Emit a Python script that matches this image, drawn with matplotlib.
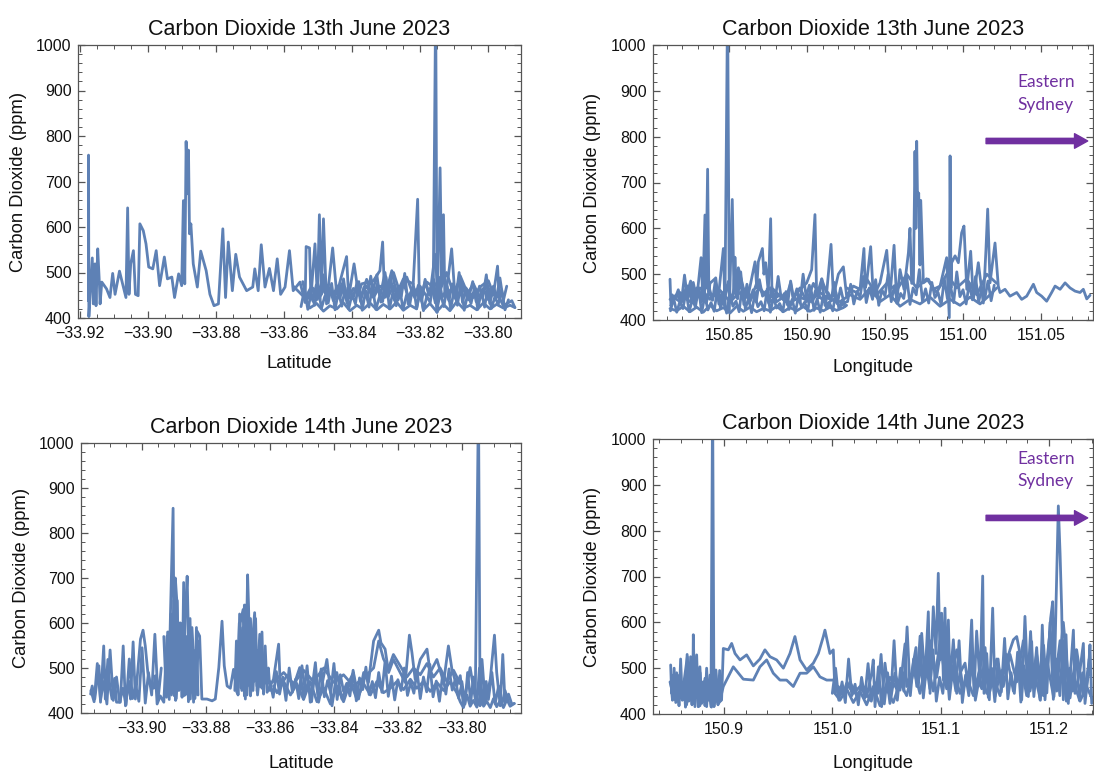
import matplotlib
matplotlib.use('Agg')
import matplotlib.pyplot as plt
from matplotlib.ticker import MultipleLocator, FuncFormatter

plt.rcParams['font.family'] = ['Liberation Sans', 'DejaVu Sans']

LINE_COLOR = '#5E81B5'
FRAME_COLOR = '#555555'
PURPLE = '#7030A0'

# ---------------- Panel 1: 13th June, latitude ----------------
p1a_lat = [-33.9175, -33.9175, -33.9174, -33.9171, -33.9164, -33.9161, -33.9156, -33.9153, -33.9148, -33.9143,
           -33.9141, -33.9136, -33.9122, -33.9112, -33.9104, -33.9097, -33.9084, -33.9065, -33.9060, -33.9056,
           -33.9051, -33.9043, -33.9037, -33.9029, -33.9024, -33.9014, -33.9006, -33.8998, -33.8986, -33.8976,
           -33.8966, -33.8952, -33.8943, -33.8930, -33.8922, -33.8910, -33.8901, -33.8896, -33.8892, -33.8888,
           -33.8884, -33.8881, -33.8878, -33.8874, -33.8867, -33.8855, -33.8845, -33.8829, -33.8818, -33.8806,
           -33.8793, -33.8780, -33.8772, -33.8764, -33.8752, -33.8742, -33.8731, -33.8710, -33.8692, -33.8686,
           -33.8676, -33.8667, -33.8656, -33.8643, -33.8631, -33.8620, -33.8610, -33.8597, -33.8584, -33.8573,
           -33.8553, -33.8538, -33.8535, -33.8525, -33.8521, -33.8509, -33.8502, -33.8496, -33.8490, -33.8484,
           -33.8475, -33.8457, -33.8445, -33.8416, -33.8410, -33.8394, -33.8381, -33.8372, -33.8337, -33.8318,
           -33.8310, -33.8304, -33.8283, -33.8269, -33.8249, -33.8220, -33.8207, -33.8202, -33.8180, -33.8161,
           -33.8154, -33.8150, -33.8146, -33.8141, -33.8136, -33.8131, -33.8127, -33.8117, -33.8107, -33.8097,
           -33.8082, -33.8068, -33.8043, -33.8024, -33.7999, -33.7984, -33.7972, -33.7967, -33.7955, -33.7930,
           -33.7921]
p1a_co2 = [438, 758, 403, 445, 532, 431, 519, 427, 552, 475,
           431, 479, 464, 445, 498, 452, 503, 445, 642, 452,
           519, 548, 452, 449, 607, 592, 563, 512, 508, 548,
           471, 534, 486, 490, 445, 497, 471, 658, 475, 788,
           673, 769, 585, 607, 519, 468, 547, 504, 452, 427,
           431, 596, 445, 567, 460, 540, 490, 460, 468, 508,
           460, 561, 468, 509, 460, 530, 452, 468, 548, 460,
           479, 434, 557, 554, 445, 563, 445, 627, 452, 618,
           431, 554, 452, 535, 445, 519, 452, 475, 482, 504,
           567, 445, 504, 452, 486, 475, 661, 445, 479, 468,
           1100, 412, 534, 730, 475, 627, 445, 490, 552, 445,
           493, 468, 445, 468, 482, 452, 514, 445, 427, 438,
           423]

p1b_lat = [-33.7921, -33.7935, -33.7955, -33.7975, -33.7994, -33.8014, -33.8033, -33.8053, -33.8073, -33.8092,
           -33.8112, -33.8131, -33.8151, -33.8171, -33.8190, -33.8200, -33.8210, -33.8229, -33.8249, -33.8269,
           -33.8288, -33.8308, -33.8327, -33.8347, -33.8367, -33.8386, -33.8406, -33.8426, -33.8445, -33.8465,
           -33.8484, -33.8504, -33.8524, -33.8533]
p1b_co2 = [423, 428, 422, 430, 420, 433, 418, 428, 421, 436,
           416, 430, 414, 432, 418, 460, 420, 428, 417, 435,
           420, 430, 418, 433, 419, 428, 416, 434, 420, 427,
           415, 432, 422, 436]

p1c_lat = [-33.8533, -33.8519, -33.8504, -33.8489, -33.8475, -33.8460, -33.8445, -33.8430, -33.8416, -33.8401,
           -33.8386, -33.8372, -33.8357, -33.8342, -33.8327, -33.8318, -33.8303, -33.8293, -33.8278, -33.8264,
           -33.8249, -33.8234, -33.8220, -33.8200, -33.8185, -33.8171, -33.8156, -33.8146, -33.8131, -33.8117,
           -33.8102, -33.8087, -33.8073, -33.8058, -33.8043, -33.8028, -33.8014, -33.7999, -33.7984, -33.7975]
p1c_co2 = [450, 470, 440, 480, 445, 460, 440, 475, 450, 442,
           470, 448, 485, 450, 495, 445, 500, 448, 470, 440,
           478, 445, 468, 442, 480, 450, 540, 445, 500, 455,
           470, 445, 465, 440, 455, 438, 465, 440, 470, 445]

p1d_lat = [-33.7984, -33.8004, -33.8024, -33.8043, -33.8063, -33.8082, -33.8102, -33.8122, -33.8141, -33.8161,
           -33.8180, -33.8200, -33.8220, -33.8239, -33.8259, -33.8278, -33.8298, -33.8318, -33.8337, -33.8357,
           -33.8376, -33.8396, -33.8416, -33.8435, -33.8455, -33.8475, -33.8494, -33.8514, -33.8533, -33.8553,
           -33.8573]
p1d_co2 = [450, 470, 445, 475, 450, 485, 455, 500, 460, 480,
           447, 470, 450, 490, 455, 500, 460, 470, 445, 470,
           448, 465, 440, 470, 455, 472, 448, 465, 440, 455,
           470]

p1e_lat = [-33.855, -33.854, -33.853, -33.852, -33.851, -33.850, -33.849, -33.848, -33.847, -33.846,
           -33.845, -33.844, -33.843, -33.842, -33.841, -33.840, -33.839, -33.838, -33.837, -33.836,
           -33.835, -33.834, -33.833, -33.832, -33.831, -33.830, -33.829, -33.828, -33.827, -33.826,
           -33.825, -33.824, -33.823, -33.822, -33.821, -33.820, -33.819, -33.818, -33.817, -33.816,
           -33.815, -33.814, -33.813, -33.812, -33.811, -33.810, -33.809, -33.808, -33.807, -33.806,
           -33.805, -33.804, -33.803, -33.802, -33.801, -33.800, -33.799, -33.798, -33.797, -33.796,
           -33.795, -33.794]
p1e_co2 = [425, 462, 419, 455, 428, 470, 421, 448, 433, 476,
           418, 458, 426, 466, 420, 452, 431, 480, 417, 460,
           424, 470, 419, 445, 436, 490, 420, 456, 427, 468,
           418, 450, 430, 475, 421, 462, 416, 448, 434, 485,
           419, 455, 425, 470, 420, 460, 428, 478, 417, 452,
           432, 465, 419, 458, 424, 470, 421, 446, 430, 462,
           418, 440]

p1f_lat = [-33.7945, -33.7955, -33.7965, -33.7975, -33.7985, -33.7995, -33.8005, -33.8015, -33.8025, -33.8035,
           -33.8045, -33.8055, -33.8065, -33.8075, -33.8085, -33.8095, -33.8105, -33.8115, -33.8125, -33.8135,
           -33.8145, -33.8155, -33.8165, -33.8175, -33.8185, -33.8195, -33.8205, -33.8215, -33.8225, -33.8235,
           -33.8245, -33.8255, -33.8265, -33.8275, -33.8285, -33.8295, -33.8305, -33.8315, -33.8325, -33.8335,
           -33.8345, -33.8355, -33.8365, -33.8375, -33.8385, -33.8395, -33.8405, -33.8415, -33.8425, -33.8435,
           -33.8445, -33.8455, -33.8465, -33.8475, -33.8485, -33.8495, -33.8505, -33.8515, -33.8525, -33.8535,
           -33.8545]
p1f_co2 = [470, 438, 488, 445, 462, 432, 495, 447, 470, 436,
           480, 450, 466, 434, 500, 442, 475, 438, 458, 446,
           490, 433, 468, 452, 485, 437, 472, 444, 460, 431,
           498, 448, 470, 439, 482, 445, 463, 435, 476, 450,
           492, 441, 467, 436, 479, 447, 460, 433, 486, 444,
           471, 438, 464, 449, 495, 440, 473, 437, 458, 446,
           480]

# ---------------- Panel 2: 13th June, longitude ----------------
p2a_lon = [150.8122, 150.8128, 150.8143, 150.8186, 150.8229, 150.8254, 150.8262, 150.8271, 150.8293, 150.8321,
           150.8332, 150.8346, 150.8352, 150.8363, 150.8371, 150.8378, 150.8410, 150.8432, 150.8464, 150.8474,
           150.8491, 150.8502, 150.8521, 150.8532, 150.8538, 150.8549, 150.8560, 150.8592, 150.8624, 150.8667,
           150.8678, 150.8688, 150.8714, 150.8724, 150.8735, 150.8752, 150.8767, 150.8776, 150.8784, 150.8827,
           150.8859, 150.8895, 150.8912, 150.8934, 150.8966, 150.8998, 150.9030, 150.9051, 150.9062, 150.9094,
           150.9126, 150.9154, 150.9169, 150.9201, 150.9233, 150.9254, 150.9297, 150.9340, 150.9365, 150.9373,
           150.9382, 150.9408, 150.9425, 150.9468, 150.9511, 150.9532, 150.9558, 150.9575, 150.9596, 150.9622,
           150.9650, 150.9660, 150.9671, 150.9682, 150.9692, 150.9698, 150.9703, 150.9709, 150.9716, 150.9724,
           150.9729, 150.9746, 150.9778, 150.9810, 150.9853, 150.9895, 150.9912, 150.9917, 150.9923, 150.9927,
           150.9949, 150.9970, 150.9991, 151.0006, 151.0024, 151.0049, 151.0066, 151.0098, 151.0130, 151.0147,
           151.0158, 151.0173, 151.0205, 151.0226, 151.0237, 151.0269, 151.0301, 151.0344, 151.0376, 151.0408,
           151.0451, 151.0472, 151.0504, 151.0536, 151.0568, 151.0590, 151.0622, 151.0654, 151.0686, 151.0718,
           151.0750, 151.0771, 151.0793, 151.0814]
p2a_co2 = [489, 430, 450, 440, 455, 485, 440, 482, 445, 536,
           450, 629, 470, 729, 460, 480, 490, 450, 556, 430,
           1100, 420, 663, 460, 537, 450, 514, 470, 455, 527,
           470, 527, 556, 500, 525, 460, 621, 450, 467, 452,
           440, 481, 445, 459, 470, 481, 510, 630, 452, 489,
           459, 565, 452, 500, 516, 452, 474, 467, 556, 470,
           481, 560, 452, 481, 552, 452, 563, 437, 510, 467,
           547, 600, 480, 481, 768, 600, 790, 650, 677, 520,
           661, 481, 489, 467, 474, 536, 405, 758, 470, 525,
           540, 525, 590, 605, 467, 550, 445, 525, 437, 554,
           642, 481, 568, 474, 460, 467, 452, 460, 445, 452,
           478, 460, 452, 441, 460, 474, 467, 481, 470, 463,
           460, 467, 446, 454]

p2b_lon = [150.8122, 150.8165, 150.8207, 150.8250, 150.8293, 150.8335, 150.8378, 150.8421, 150.8464, 150.8506,
           150.8549, 150.8592, 150.8635, 150.8677, 150.8720, 150.8763, 150.8806, 150.8848, 150.8891, 150.8934,
           150.8976, 150.9019, 150.9062, 150.9105, 150.9147, 150.9190, 150.9233, 150.9254]
p2b_co2 = [425, 420, 430, 418, 428, 417, 432, 420, 427, 415,
           430, 419, 428, 418, 425, 420, 430, 418, 427, 420,
           429, 419, 426, 420, 428, 421, 427, 432]

p2c_lon = [150.9254, 150.9212, 150.9169, 150.9126, 150.9083, 150.9041, 150.8998, 150.8955, 150.8923, 150.8891,
           150.8848, 150.8806, 150.8763, 150.8720, 150.8677, 150.8635, 150.8592, 150.8549, 150.8517, 150.8485,
           150.8453, 150.8421, 150.8389, 150.8357, 150.8325, 150.8293, 150.8261, 150.8229, 150.8197, 150.8165,
           150.8132]
p2c_co2 = [440, 430, 445, 435, 450, 480, 440, 470, 455, 430,
           450, 440, 470, 455, 480, 440, 465, 480, 445, 475,
           440, 470, 445, 480, 440, 470, 445, 475, 440, 455,
           440]

p2d_lon = [150.8122, 150.8186, 150.8250, 150.8314, 150.8378, 150.8442, 150.8506, 150.8571, 150.8635, 150.8699,
           150.8763, 150.8827, 150.8891, 150.8955, 150.9019, 150.9083, 150.9147, 150.9212, 150.9276, 150.9340,
           150.9404, 150.9468, 150.9532, 150.9596, 150.9660, 150.9724, 150.9788, 150.9853, 150.9917, 150.9981,
           151.0045, 151.0109, 151.0173, 151.0216]
p2d_co2 = [445, 460, 440, 470, 445, 465, 440, 460, 445, 470,
           440, 455, 438, 450, 440, 460, 445, 440, 455, 445,
           470, 440, 455, 430, 445, 435, 450, 430, 445, 432,
           450, 435, 455, 470]

p2e_lon = [151.0216, 151.0152, 151.0088, 151.0024, 150.9959, 150.9895, 150.9831, 150.9767, 150.9703, 150.9639,
           150.9575, 150.9511, 150.9447, 150.9382, 150.9318, 150.9254]
p2e_co2 = [480, 500, 455, 490, 470, 500, 460, 490, 470, 500,
           465, 480, 455, 490, 460, 470]

p2f_lon = [150.8125, 150.8145, 150.8165, 150.8185, 150.8205, 150.8225, 150.8245, 150.8265, 150.8285, 150.8305,
           150.8325, 150.8345, 150.8365, 150.8385, 150.8405, 150.8425, 150.8445, 150.8465, 150.8485, 150.8505,
           150.8525, 150.8545, 150.8565, 150.8585, 150.8605, 150.8625, 150.8645, 150.8665, 150.8685, 150.8705,
           150.8725, 150.8745, 150.8765, 150.8785, 150.8805, 150.8825, 150.8845, 150.8865, 150.8885, 150.8905,
           150.8925, 150.8945, 150.8965, 150.8985, 150.9005, 150.9025, 150.9045, 150.9065, 150.9085, 150.9105,
           150.9125, 150.9145, 150.9165, 150.9185, 150.9205, 150.9225, 150.9245]
p2f_co2 = [420, 448, 417, 440, 425, 462, 418, 445, 428, 470,
           416, 452, 422, 438, 419, 466, 427, 444, 415, 458,
           430, 441, 418, 475, 424, 447, 416, 455, 429, 440,
           420, 468, 417, 450, 426, 436, 418, 462, 423, 445,
           415, 452, 428, 439, 419, 470, 421, 446, 417, 455,
           426, 437, 420, 460, 424, 442, 430]

p2g_lon = [150.9235, 150.9215, 150.9195, 150.9175, 150.9155, 150.9135, 150.9115, 150.9095, 150.9075, 150.9055,
           150.9035, 150.9015, 150.8995, 150.8975, 150.8955, 150.8935, 150.8915, 150.8895, 150.8875, 150.8855,
           150.8835, 150.8815, 150.8795, 150.8775, 150.8755, 150.8735, 150.8715, 150.8695, 150.8675, 150.8655,
           150.8635, 150.8615, 150.8595, 150.8575, 150.8555, 150.8535, 150.8515, 150.8495, 150.8475, 150.8455,
           150.8435, 150.8415, 150.8395, 150.8375, 150.8355, 150.8335, 150.8315, 150.8295, 150.8275, 150.8255,
           150.8235, 150.8215, 150.8195, 150.8175, 150.8155, 150.8135]
p2g_co2 = [440, 470, 436, 482, 445, 460, 432, 490, 448, 465,
           438, 476, 450, 500, 437, 468, 444, 485, 433, 458,
           447, 495, 440, 472, 436, 462, 452, 488, 439, 466,
           445, 478, 434, 505, 446, 470, 438, 484, 450, 460,
           435, 492, 443, 468, 437, 480, 449, 462, 436, 474,
           444, 498, 439, 466, 447, 455]

p2h_lon = [150.926, 150.928, 150.930, 150.932, 150.934, 150.936, 150.938, 150.940, 150.942, 150.944,
           150.946, 150.948, 150.950, 150.952, 150.954, 150.956, 150.958, 150.960, 150.962, 150.964,
           150.966, 150.968, 150.970, 150.972, 150.974, 150.976, 150.978, 150.980, 150.982, 150.984,
           150.986, 150.988, 150.990, 150.992, 150.994, 150.996, 150.998, 151.000, 151.002, 151.004,
           151.006, 151.008, 151.010, 151.012, 151.014, 151.016, 151.018, 151.020]
p2h_co2 = [440, 478, 435, 462, 450, 495, 438, 470, 445, 488,
           432, 466, 452, 500, 440, 475, 436, 458, 447, 492,
           434, 470, 455, 510, 441, 468, 437, 482, 449, 460,
           433, 490, 446, 474, 438, 505, 451, 466, 435, 480,
           444, 495, 439, 470, 448, 485, 442, 476]

# ---------------- Panel 3: 14th June, latitude ----------------
p3a_lat = [-33.9161, -33.9156, -33.9148, -33.9135, -33.9130, -33.9120, -33.9115, -33.9107, -33.9101, -33.9094,
           -33.9086, -33.9080, -33.9068, -33.9059, -33.9052, -33.9042, -33.9036, -33.9028, -33.9021, -33.9005,
           -33.8997, -33.8990, -33.8982, -33.8974, -33.8964, -33.8958, -33.8953, -33.8943, -33.8932, -33.8922,
           -33.8917, -33.8911, -33.8903, -33.8899, -33.8896, -33.8891, -33.8885, -33.8880, -33.8875, -33.8870,
           -33.8865, -33.8859, -33.8854, -33.8849, -33.8844, -33.8839, -33.8828, -33.8820, -33.8813, -33.8797,
           -33.8781, -33.8771, -33.8760, -33.8750, -33.8743, -33.8734, -33.8724, -33.8714, -33.8703, -33.8693,
           -33.8684, -33.8677, -33.8670, -33.8667, -33.8661, -33.8656, -33.8648, -33.8641, -33.8632, -33.8625,
           -33.8615, -33.8609, -33.8589, -33.8573, -33.8568, -33.8547, -33.8526, -33.8507, -33.8495, -33.8484,
           -33.8474, -33.8458, -33.8448, -33.8438, -33.8422, -33.8406, -33.8391, -33.8375, -33.8359, -33.8339,
           -33.8323, -33.8307, -33.8292, -33.8276, -33.8260, -33.8253, -33.8240, -33.8229, -33.8214, -33.8193,
           -33.8177, -33.8164, -33.8156, -33.8146, -33.8130, -33.8109, -33.8099, -33.8078, -33.8057, -33.8042,
           -33.8031, -33.8016, -33.8005, -33.7995, -33.7974, -33.7958, -33.7948, -33.7943, -33.7937, -33.7927,
           -33.7911, -33.7898, -33.7891, -33.7880, -33.7872, -33.7865, -33.7854, -33.7844, -33.7836]
p3a_co2 = [442, 460, 431, 505, 424, 549, 431, 519, 460, 431,
           477, 424, 424, 549, 416, 471, 431, 558, 431, 564,
           584, 549, 490, 460, 455, 483, 420, 438, 424, 571,
           435, 626, 855, 438, 700, 645, 460, 578, 593, 438,
           615, 704, 534, 431, 556, 424, 582, 571, 431, 431,
           427, 431, 501, 604, 505, 460, 455, 497, 446, 600,
           630, 431, 707, 637, 438, 549, 623, 460, 575, 455,
           549, 446, 475, 553, 460, 483, 460, 501, 431, 505,
           424, 512, 424, 460, 519, 416, 490, 431, 460, 490,
           431, 490, 468, 560, 584, 556, 542, 490, 519, 490,
           468, 573, 534, 475, 519, 542, 490, 519, 468, 549,
           497, 460, 483, 416, 501, 431, 1100, 416, 519, 424,
           475, 573, 490, 416, 530, 424, 442, 420, 421]

p3b_lat = [-33.7836, -33.7849, -33.7859, -33.7870, -33.7880, -33.7891, -33.7901, -33.7911, -33.7922, -33.7932,
           -33.7943, -33.7953, -33.7964, -33.7974, -33.7984, -33.7995, -33.8005, -33.8016, -33.8036, -33.8057,
           -33.8078, -33.8099, -33.8120, -33.8141, -33.8161, -33.8182, -33.8203, -33.8224, -33.8245, -33.8266,
           -33.8286, -33.8307, -33.8328, -33.8349, -33.8370, -33.8391, -33.8411, -33.8432, -33.8453, -33.8474,
           -33.8495, -33.8516, -33.8536, -33.8557, -33.8578, -33.8589]
p3b_co2 = [421, 415, 430, 412, 428, 414, 432, 412, 426, 415,
           435, 413, 428, 415, 440, 412, 425, 445, 470, 450,
           468, 448, 470, 455, 475, 452, 470, 455, 445, 470,
           440, 465, 430, 470, 425, 460, 420, 455, 425, 470,
           430, 465, 440, 470, 445, 460]

p3c_lat = [-33.8589, -33.8557, -33.8526, -33.8495, -33.8464, -33.8432, -33.8401, -33.8370, -33.8339, -33.8307,
           -33.8276, -33.8260, -33.8245, -33.8229, -33.8214, -33.8193, -33.8172, -33.8151, -33.8130, -33.8109,
           -33.8089, -33.8068, -33.8047, -33.8026, -33.8005]
p3c_co2 = [470, 490, 465, 495, 470, 500, 468, 485, 460, 478,
           500, 560, 520, 500, 530, 505, 480, 500, 485, 510,
           480, 500, 470, 495, 465]

p3d_lat = [-33.8823, -33.8833, -33.8844, -33.8854, -33.8861, -33.8872, -33.8882, -33.8893, -33.8901, -33.8908,
           -33.8917, -33.8924, -33.8932]
p3d_co2 = [560, 440, 590, 430, 560, 445, 600, 432, 650, 440,
           580, 435, 570]

p3e_lat = [-33.8630, -33.8639, -33.8646, -33.8653, -33.8661, -33.8672, -33.8680, -33.8688, -33.8696, -33.8703]
p3e_co2 = [500, 440, 580, 450, 610, 440, 640, 450, 600, 445]

p3f_lat = [-33.8000, -33.7990, -33.7982, -33.7972, -33.7964, -33.7953, -33.7945, -33.7934, -33.7924, -33.7917,
           -33.7906, -33.7896, -33.7885, -33.7875, -33.7865, -33.7854]
p3f_co2 = [470, 420, 490, 425, 480, 418, 500, 422, 470, 430,
           490, 420, 460, 418, 450, 425]

p3g_lat = [-33.860, -33.859, -33.858, -33.857, -33.856, -33.855, -33.854, -33.853, -33.852, -33.851,
           -33.850, -33.849, -33.848, -33.847, -33.846, -33.845, -33.844, -33.843, -33.842, -33.841,
           -33.840, -33.839, -33.838, -33.837, -33.836, -33.835, -33.834, -33.833, -33.832, -33.831,
           -33.830, -33.829, -33.828, -33.827, -33.826, -33.825, -33.824, -33.823, -33.822, -33.821,
           -33.820, -33.819, -33.818, -33.817, -33.816, -33.815, -33.814, -33.813, -33.812, -33.811,
           -33.810, -33.809, -33.808, -33.807, -33.806, -33.805, -33.804, -33.803, -33.802, -33.801,
           -33.800]
p3g_co2 = [470, 435, 492, 442, 480, 428, 500, 446, 475, 432,
           505, 450, 468, 425, 488, 440, 498, 436, 472, 445,
           510, 430, 485, 448, 466, 438, 495, 427, 478, 452,
           502, 441, 470, 434, 490, 446, 515, 437, 482, 429,
           474, 450, 500, 439, 468, 444, 493, 432, 480, 447,
           508, 436, 471, 426, 486, 442, 498, 451, 476, 433,
           465]

p3h_lat = [-33.916, -33.915, -33.914, -33.913, -33.912, -33.911, -33.910, -33.909, -33.908, -33.907,
           -33.906, -33.905, -33.904, -33.903, -33.902, -33.901, -33.900, -33.899, -33.898, -33.897,
           -33.896, -33.895, -33.894]
p3h_co2 = [450, 425, 510, 430, 470, 420, 540, 428, 480, 424,
           455, 418, 520, 432, 462, 426, 545, 422, 490, 440,
           575, 430, 500]

p3i_lat = [-33.8925, -33.8920, -33.8915, -33.8910, -33.8905, -33.8900, -33.8895, -33.8890, -33.8885, -33.8880,
           -33.8875, -33.8870, -33.8865, -33.8860, -33.8855, -33.8850, -33.8845, -33.8840, -33.8835, -33.8830,
           -33.8825]
p3i_co2 = [440, 580, 430, 620, 445, 560, 428, 650, 450, 600,
           435, 690, 440, 570, 425, 610, 450, 540, 432, 590,
           440]

p3j_lat = [-33.8710, -33.8705, -33.8700, -33.8695, -33.8690, -33.8685, -33.8680, -33.8675, -33.8670, -33.8665,
           -33.8660, -33.8655, -33.8650, -33.8645, -33.8640, -33.8635, -33.8630, -33.8625, -33.8620, -33.8615,
           -33.8610, -33.8605, -33.8600]
p3j_co2 = [450, 560, 440, 620, 455, 590, 438, 640, 460, 600,
           445, 560, 470, 610, 448, 540, 458, 580, 442, 520,
           465, 500, 450]

# ---------------- Panel 4: 14th June, longitude ----------------
p4a_lon = [150.8508, 150.8517, 150.8532, 150.8548, 150.8569, 150.8594, 150.8625, 150.8649, 150.8662, 150.8680,
           150.8692, 150.8711, 150.8717, 150.8732, 150.8748, 150.8763, 150.8778, 150.8794, 150.8825, 150.8840,
           150.8855, 150.8880, 150.8895, 150.8908, 150.8926, 150.8948, 150.8978, 150.8994, 150.9040, 150.9071,
           150.9102, 150.9148, 150.9209, 150.9271, 150.9332, 150.9378, 150.9425, 150.9486, 150.9548, 150.9609,
           150.9655, 150.9702, 150.9763, 150.9825, 150.9871, 150.9917, 150.9932, 150.9978, 151.0009, 151.0025,
           151.0055, 151.0102, 151.0132, 151.0194, 151.0255, 151.0317, 151.0363, 151.0378, 151.0394, 151.0425,
           151.0455, 151.0486, 151.0532, 151.0578, 151.0625, 151.0671, 151.0686, 151.0732, 151.0772, 151.0794,
           151.0825, 151.0855, 151.0886, 151.0902, 151.0932, 151.0957, 151.0978, 151.0994, 151.1009, 151.1025,
           151.1040, 151.1055, 151.1071, 151.1086, 151.1117, 151.1148, 151.1178, 151.1225, 151.1255, 151.1286,
           151.1308, 151.1332, 151.1363, 151.1388, 151.1400, 151.1425, 151.1449, 151.1480, 151.1502, 151.1548,
           151.1594, 151.1640, 151.1671, 151.1702, 151.1732, 151.1748, 151.1778, 151.1809, 151.1840, 151.1855,
           151.1886, 151.1917, 151.1938, 151.1963, 151.1994, 151.2015, 151.2034, 151.2046, 151.2065, 151.2086,
           151.2102, 151.2117, 151.2132, 151.2157, 151.2178, 151.2225, 151.2240, 151.2286, 151.2317, 151.2332,
           151.2363, 151.2378, 151.2394]
p4a_co2 = [507, 445, 485, 431, 481, 438, 460, 503, 525, 438,
           525, 423, 573, 416, 529, 416, 503, 423, 478, 416,
           474, 416, 1100, 416, 496, 423, 431, 543, 540, 554,
           532, 518, 529, 505, 520, 540, 525, 518, 500, 532,
           569, 518, 496, 511, 532, 569, 583, 532, 540, 445,
           460, 445, 467, 445, 460, 438, 489, 518, 416, 503,
           416, 511, 423, 489, 452, 553, 460, 489, 545, 460,
           576, 474, 623, 445, 634, 532, 707, 518, 620, 474,
           631, 460, 605, 467, 562, 445, 489, 511, 460, 605,
           445, 581, 467, 701, 445, 532, 431, 631, 438, 489,
           503, 540, 562, 569, 532, 431, 613, 438, 558, 460,
           545, 431, 594, 431, 532, 609, 645, 438, 642, 854,
           751, 627, 431, 573, 423, 583, 445, 496, 554, 423,
           489, 551, 423]

p4b_lon = [151.0009, 150.9948, 150.9886, 150.9825, 150.9763, 150.9702, 150.9640, 150.9578, 150.9517, 150.9455,
           150.9394, 150.9332, 150.9271, 150.9178, 150.9086, 150.8994, 150.8963, 150.8932, 150.8902, 150.8871,
           150.8840, 150.8809, 150.8778, 150.8748, 150.8717, 150.8686, 150.8655, 150.8625, 150.8594, 150.8563,
           150.8532, 150.8502]
p4b_co2 = [474, 474, 481, 503, 489, 489, 460, 474, 474, 489,
           518, 503, 474, 476, 503, 460, 430, 470, 420, 485,
           425, 470, 418, 490, 430, 480, 420, 470, 435, 490,
           440, 470]

p4c_lon = [151.0009, 151.0071, 151.0132, 151.0194, 151.0255, 151.0317, 151.0378, 151.0440, 151.0502, 151.0563,
           151.0625, 151.0686, 151.0748, 151.0809, 151.0871, 151.0932, 151.0994, 151.1055, 151.1117, 151.1178,
           151.1240, 151.1302, 151.1363, 151.1425, 151.1486, 151.1548, 151.1609, 151.1671, 151.1732, 151.1794,
           151.1855, 151.1917, 151.1978, 151.2040, 151.2102, 151.2163, 151.2225, 151.2286, 151.2348, 151.2403]
p4c_co2 = [450, 430, 455, 425, 450, 420, 460, 418, 455, 425,
           470, 440, 500, 445, 520, 450, 560, 455, 500, 445,
           480, 440, 500, 445, 480, 440, 530, 450, 520, 440,
           500, 435, 520, 440, 560, 430, 470, 428, 460, 430]

p4d_lon = [151.2378, 151.2317, 151.2255, 151.2194, 151.2132, 151.2071, 151.2009, 151.1948, 151.1886, 151.1825,
           151.1763, 151.1702, 151.1640, 151.1578, 151.1517, 151.1455, 151.1394, 151.1332, 151.1271, 151.1209,
           151.1148, 151.1086, 151.1025, 151.0963, 151.0902, 151.0840, 151.0778, 151.0717, 151.0655, 151.0594,
           151.0532, 151.0471, 151.0409, 151.0348, 151.0286, 151.0225, 151.0163, 151.0102, 151.0040]
p4d_co2 = [520, 440, 540, 435, 600, 450, 580, 440, 530, 450,
           560, 470, 530, 460, 520, 450, 540, 460, 500, 455,
           540, 470, 580, 480, 560, 470, 520, 460, 490, 455,
           480, 440, 470, 430, 460, 440, 470, 440, 460]

p4e_lon = [151.000, 151.003, 151.006, 151.009, 151.012, 151.015, 151.018, 151.021, 151.024, 151.027,
           151.030, 151.033, 151.036, 151.039, 151.042, 151.045, 151.048, 151.051, 151.054, 151.057,
           151.060, 151.063, 151.066, 151.069, 151.072, 151.075, 151.078, 151.081, 151.084, 151.087,
           151.090, 151.093, 151.096, 151.099, 151.102, 151.105, 151.108, 151.111, 151.114, 151.117,
           151.120, 151.123, 151.126, 151.129, 151.132, 151.135, 151.138, 151.141, 151.144, 151.147,
           151.150, 151.153, 151.156, 151.159, 151.162, 151.165, 151.168, 151.171, 151.174, 151.177,
           151.180, 151.183, 151.186, 151.189, 151.192, 151.195, 151.198, 151.201, 151.204, 151.207,
           151.210, 151.213, 151.216, 151.219, 151.222, 151.225, 151.228, 151.231, 151.234, 151.237]
p4e_co2 = [445, 500, 430, 470, 425, 520, 440, 465, 420, 480,
           435, 510, 428, 460, 445, 530, 422, 490, 438, 560,
           430, 500, 450, 590, 440, 520, 460, 570, 435, 505,
           455, 540, 428, 480, 445, 520, 432, 495, 450, 560,
           425, 485, 440, 530, 430, 470, 455, 545, 436, 500,
           427, 520, 448, 565, 433, 490, 445, 535, 426, 505,
           452, 580, 438, 510, 430, 550, 446, 600, 432, 520,
           440, 560, 428, 500, 450, 540, 430, 490, 445, 520]

p4f_lon = [150.8510, 150.8525, 150.8540, 150.8555, 150.8570, 150.8585, 150.8600, 150.8615, 150.8630, 150.8645,
           150.8660, 150.8675, 150.8690, 150.8705, 150.8720, 150.8735, 150.8750, 150.8765, 150.8780, 150.8795,
           150.8810, 150.8825, 150.8840, 150.8855, 150.8870, 150.8885, 150.8900, 150.8915, 150.8930, 150.8945,
           150.8960, 150.8975]
p4f_co2 = [470, 430, 500, 425, 485, 418, 520, 430, 470, 415,
           530, 428, 480, 420, 510, 435, 460, 416, 490, 425,
           470, 418, 500, 430, 455, 415, 480, 425, 470, 420,
           495, 430]

panel_titles = ['Carbon Dioxide 13th June 2023', 'Carbon Dioxide 13th June 2023',
                'Carbon Dioxide 14th June 2023', 'Carbon Dioxide 14th June 2023']
y_label = 'Carbon Dioxide (ppm)'
x_labels = ['Latitude', 'Longitude', 'Latitude', 'Longitude']
annotation_text = 'Eastern\nSydney'

panel_series = [
    [(p1a_lat, p1a_co2), (p1b_lat, p1b_co2), (p1c_lat, p1c_co2), (p1d_lat, p1d_co2),
     (p1e_lat, p1e_co2), (p1f_lat, p1f_co2)],
    [(p2a_lon, p2a_co2), (p2b_lon, p2b_co2), (p2c_lon, p2c_co2), (p2d_lon, p2d_co2), (p2e_lon, p2e_co2),
     (p2f_lon, p2f_co2), (p2g_lon, p2g_co2), (p2h_lon, p2h_co2)],
    [(p3a_lat, p3a_co2), (p3b_lat, p3b_co2), (p3c_lat, p3c_co2), (p3d_lat, p3d_co2), (p3e_lat, p3e_co2),
     (p3f_lat, p3f_co2), (p3g_lat, p3g_co2), (p3h_lat, p3h_co2), (p3i_lat, p3i_co2), (p3j_lat, p3j_co2)],
    [(p4a_lon, p4a_co2), (p4b_lon, p4b_co2), (p4c_lon, p4c_co2), (p4d_lon, p4d_co2),
     (p4e_lon, p4e_co2), (p4f_lon, p4f_co2)],
]

W, H = 1094, 771
fig = plt.figure(figsize=(W / 100, H / 100), dpi=100)

# pixel boxes: left, right, top, bottom
boxes = [(78, 521, 45, 318), (653, 1093, 45, 320), (81, 521, 443, 713), (653, 1093, 439, 714)]
xlims = [(-33.9206, -33.7903), (150.8013, 151.0833), (-33.9191, -33.7815), (150.8345, 151.2406)]
x_major = [0.02, 0.05, 0.02, 0.1]
x_minor = [0.005, 0.01, 0.005, 0.02]
x_fmt = ['%.2f', '%.2f', '%.2f', '%.1f']
ylabel_x = [10, 584, 13, 584]
xlabel_top = [355, 359, 755, 755]


def make_fmt(fmt):
    return FuncFormatter(lambda v, p: (fmt % v).replace('-', '\u2212'))


axes = []
for i, (l, r, t, b) in enumerate(boxes):
    ax = fig.add_axes([l / W, (H - b) / H, (r - l) / W, (b - t) / H])
    axes.append(ax)
    for xs, ys in panel_series[i]:
        ax.plot(xs, ys, color=LINE_COLOR, lw=2.0, solid_joinstyle='round', solid_capstyle='round')
    ax.set_xlim(*xlims[i])
    ax.set_ylim(400, 1000)
    ax.xaxis.set_major_locator(MultipleLocator(x_major[i]))
    ax.xaxis.set_minor_locator(MultipleLocator(x_minor[i]))
    ax.xaxis.set_major_formatter(make_fmt(x_fmt[i]))
    ax.yaxis.set_major_locator(MultipleLocator(100))
    ax.yaxis.set_minor_locator(MultipleLocator(20))
    ax.tick_params(which='both', direction='in', top=True, right=True, color=FRAME_COLOR,
                   labelsize=11.5, labelcolor='#111111')
    ax.tick_params(axis='x', which='major', pad=6)
    ax.tick_params(axis='y', which='major', pad=4.5)
    ax.tick_params(which='major', length=5, width=0.9)
    ax.tick_params(which='minor', length=2.8, width=0.7)
    for sp in ax.spines.values():
        sp.set_color(FRAME_COLOR)
        sp.set_linewidth(0.9)
    ax.set_title(panel_titles[i], fontsize=15.5, pad=7, color='#111111')
    ax.set_ylabel(y_label, fontsize=13.2, color='#111111')
    ax.yaxis.set_label_coords((ylabel_x[i] + 17 - l) / (r - l), 0.5)
    ax.set_xlabel(x_labels[i], fontsize=13.3, color='#111111')
    ax.xaxis.set_label_coords(0.5, (b - xlabel_top[i]) / (b - t))

# annotations on the longitude panels
arrow_y = [0.651, 0.713]
text_y = [0.824, 0.887]
for ax, ay, ty in zip([axes[1], axes[3]], arrow_y, text_y):
    ax.text(0.893, ty, annotation_text, transform=ax.transAxes, ha='center', va='center',
            color=PURPLE, fontsize=12.5, family=['Lato', 'DejaVu Sans'], linespacing=1.5)
    ax.annotate('', xy=(0.988, ay), xytext=(0.757, ay), xycoords='axes fraction',
                arrowprops=dict(facecolor=PURPLE, edgecolor=PURPLE, width=3.8, headwidth=10.5,
                                headlength=9.5, shrink=0))

fig.savefig('out.png', dpi=100)
